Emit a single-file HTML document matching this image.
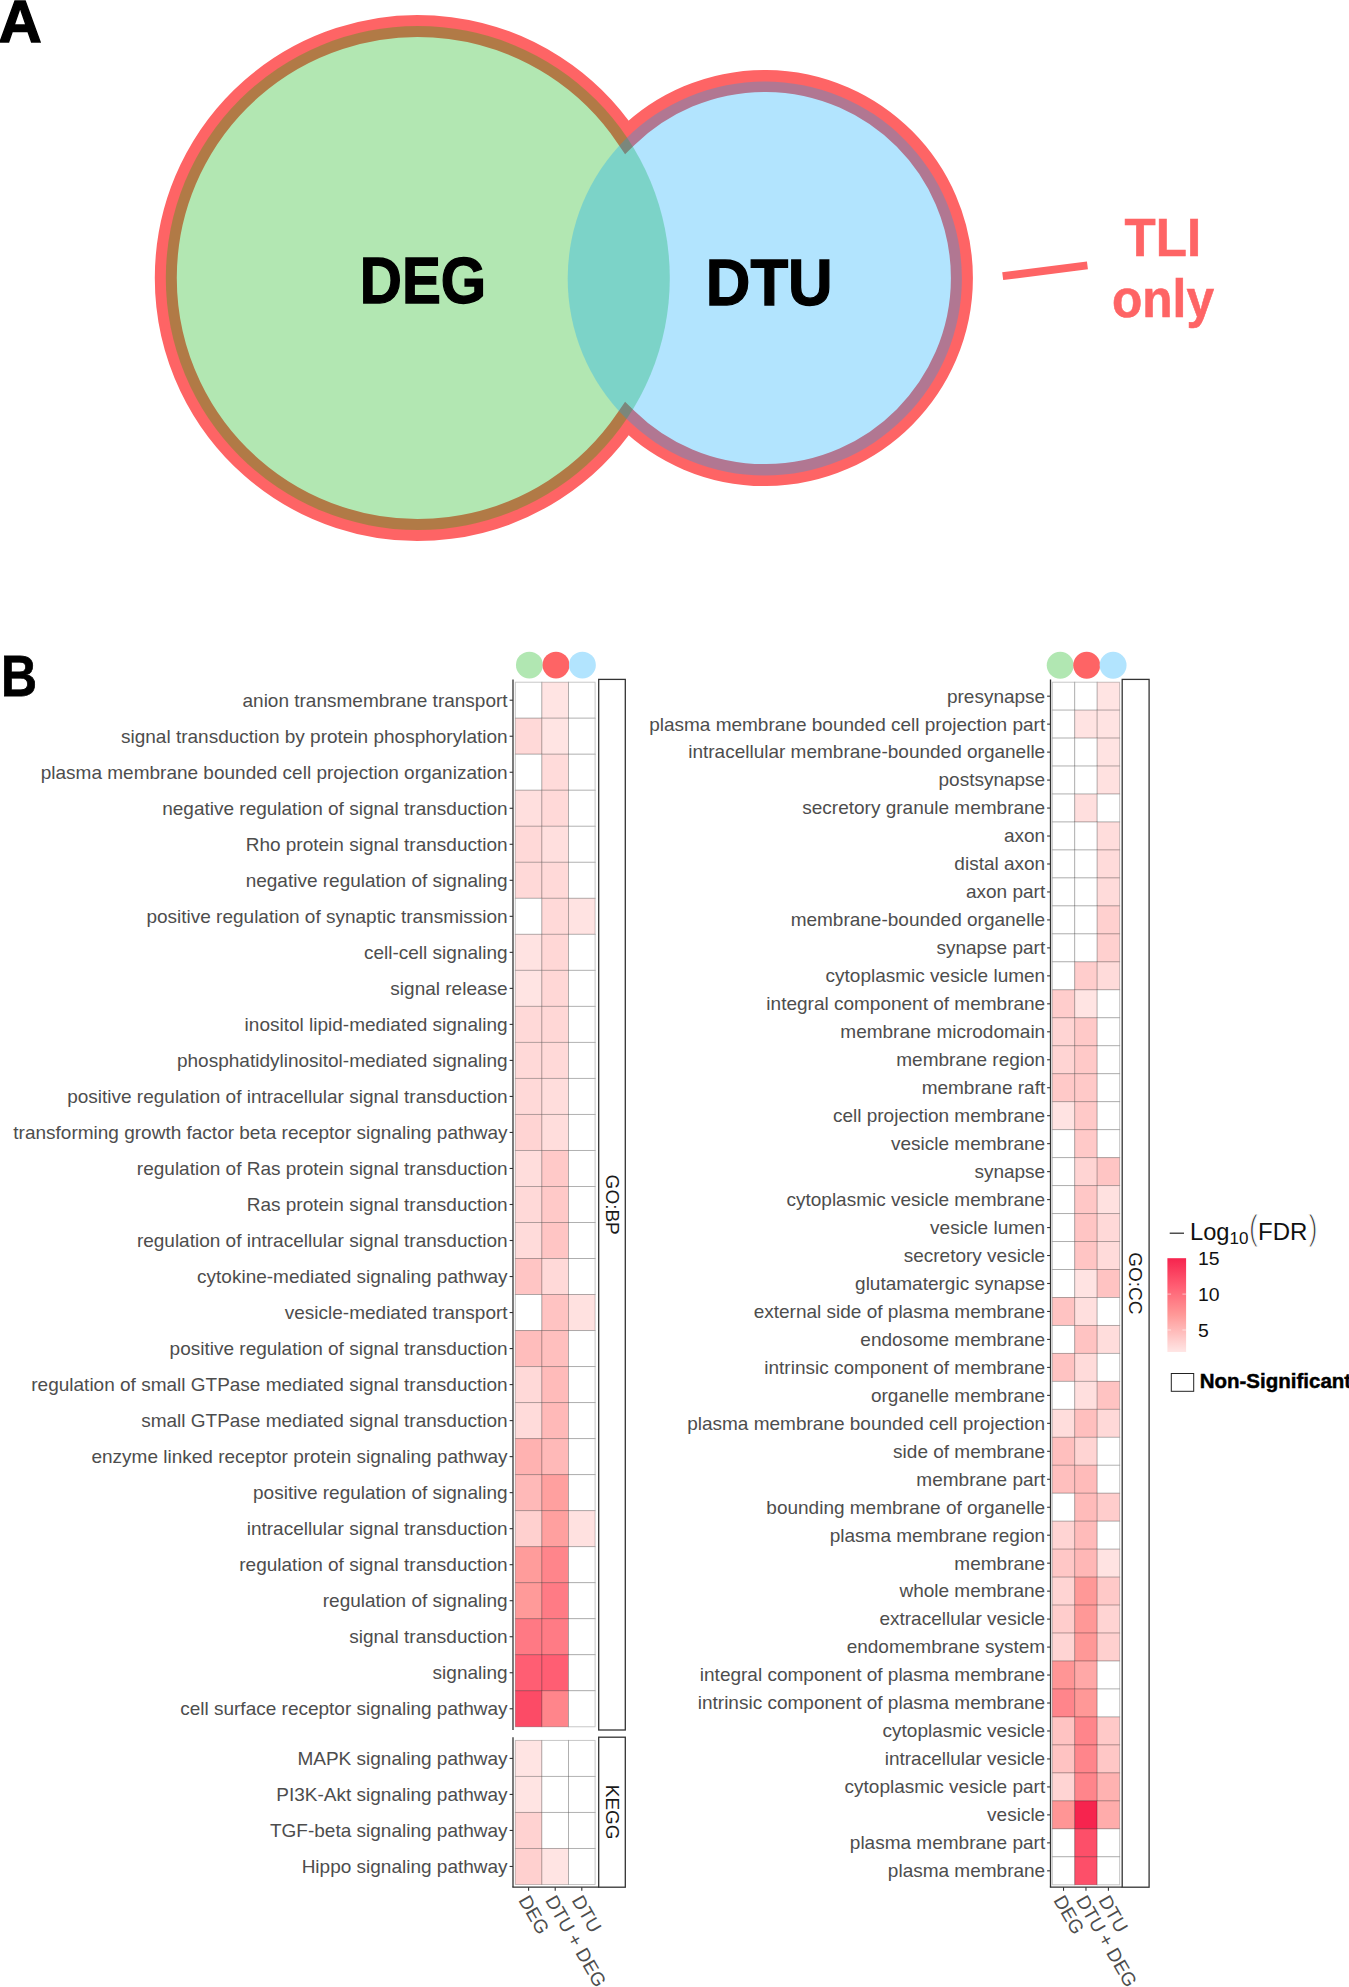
<!DOCTYPE html>
<html lang="en"><head><meta charset="utf-8"><title>Figure</title>
<style>html,body{margin:0;padding:0;background:#fff}svg{display:block}text{white-space:pre}</style>
</head><body>
<svg width="1349" height="1987" viewBox="0 0 1349 1987">
<rect width="1349" height="1987" fill="#fff"/>
<path d="M626.83 418.75 A252.0 252.0 0 1 1 626.83 137.25 A197.1 197.1 0 1 1 626.83 418.75 Z" fill="none" stroke="#fe6465" stroke-width="22" stroke-linejoin="miter"/>
<circle cx="417.8" cy="278.0" r="252.0" fill="rgb(0,176,0)" fill-opacity=".3"/>
<circle cx="764.8" cy="278.5" r="197.1" fill="rgb(0,166,252)" fill-opacity=".3"/>
<text x="359.8" y="302.9" font-family='"Liberation Sans", Arial, Helvetica, sans-serif' font-weight="700" font-size="65.6" stroke="#000" stroke-width="1.3" textLength="126.4" lengthAdjust="spacingAndGlyphs" fill="#000">DEG</text>
<text x="705.8" y="305.4" font-family='"Liberation Sans", Arial, Helvetica, sans-serif' font-weight="700" font-size="65.6" stroke="#000" stroke-width="1.3" textLength="126.9" lengthAdjust="spacingAndGlyphs" fill="#000">DTU</text>
<line x1="1002.7" y1="276.2" x2="1087.4" y2="265.4" stroke="#fe6465" stroke-width="7.8"/>
<text x="1124.6" y="256.3" font-family='"Liberation Sans", Arial, Helvetica, sans-serif' font-weight="700" font-size="54" stroke="#fe6465" stroke-width="0.6" textLength="76.5" lengthAdjust="spacingAndGlyphs" fill="#fe6465">TLI</text>
<text x="1112" y="317.2" font-family='"Liberation Sans", Arial, Helvetica, sans-serif' font-weight="700" font-size="54" stroke="#fe6465" stroke-width="0.6" textLength="102" lengthAdjust="spacingAndGlyphs" fill="#fe6465">only</text>
<text x="-1.5" y="42.0" font-family='"Liberation Sans", Arial, Helvetica, sans-serif' font-weight="700" font-size="60" stroke="#000" stroke-width="1.4" stroke-linejoin="miter" textLength="43.2" lengthAdjust="spacingAndGlyphs" fill="#000">A</text>
<text x="1.0" y="695.7" font-family='"Liberation Sans", Arial, Helvetica, sans-serif' font-weight="700" font-size="56.9" stroke="#000" stroke-width=".8" textLength="36.0" lengthAdjust="spacingAndGlyphs" fill="#000">B</text>
<rect x="515.30" y="682.20" width="26.60" height="36.02" fill="#ffffff" stroke="#000" stroke-opacity=".235" stroke-width=".95"/>
<rect x="541.90" y="682.20" width="26.60" height="36.02" fill="#ffe4e3" stroke="#000" stroke-opacity=".235" stroke-width=".95"/>
<rect x="568.50" y="682.20" width="26.60" height="36.02" fill="#ffffff" stroke="#000" stroke-opacity=".235" stroke-width=".95"/>
<rect x="515.30" y="718.22" width="26.60" height="36.02" fill="#ffd9d8" stroke="#000" stroke-opacity=".235" stroke-width=".95"/>
<rect x="541.90" y="718.22" width="26.60" height="36.02" fill="#ffe4e3" stroke="#000" stroke-opacity=".235" stroke-width=".95"/>
<rect x="568.50" y="718.22" width="26.60" height="36.02" fill="#ffffff" stroke="#000" stroke-opacity=".235" stroke-width=".95"/>
<rect x="515.30" y="754.24" width="26.60" height="36.02" fill="#ffffff" stroke="#000" stroke-opacity=".235" stroke-width=".95"/>
<rect x="541.90" y="754.24" width="26.60" height="36.02" fill="#ffdbda" stroke="#000" stroke-opacity=".235" stroke-width=".95"/>
<rect x="568.50" y="754.24" width="26.60" height="36.02" fill="#ffffff" stroke="#000" stroke-opacity=".235" stroke-width=".95"/>
<rect x="515.30" y="790.26" width="26.60" height="36.02" fill="#ffdfde" stroke="#000" stroke-opacity=".235" stroke-width=".95"/>
<rect x="541.90" y="790.26" width="26.60" height="36.02" fill="#ffd9d8" stroke="#000" stroke-opacity=".235" stroke-width=".95"/>
<rect x="568.50" y="790.26" width="26.60" height="36.02" fill="#ffffff" stroke="#000" stroke-opacity=".235" stroke-width=".95"/>
<rect x="515.30" y="826.28" width="26.60" height="36.02" fill="#ffd9d8" stroke="#000" stroke-opacity=".235" stroke-width=".95"/>
<rect x="541.90" y="826.28" width="26.60" height="36.02" fill="#ffdfde" stroke="#000" stroke-opacity=".235" stroke-width=".95"/>
<rect x="568.50" y="826.28" width="26.60" height="36.02" fill="#ffffff" stroke="#000" stroke-opacity=".235" stroke-width=".95"/>
<rect x="515.30" y="862.30" width="26.60" height="36.02" fill="#ffd9d8" stroke="#000" stroke-opacity=".235" stroke-width=".95"/>
<rect x="541.90" y="862.30" width="26.60" height="36.02" fill="#ffd9d8" stroke="#000" stroke-opacity=".235" stroke-width=".95"/>
<rect x="568.50" y="862.30" width="26.60" height="36.02" fill="#ffffff" stroke="#000" stroke-opacity=".235" stroke-width=".95"/>
<rect x="515.30" y="898.32" width="26.60" height="36.02" fill="#ffffff" stroke="#000" stroke-opacity=".235" stroke-width=".95"/>
<rect x="541.90" y="898.32" width="26.60" height="36.02" fill="#ffd9d8" stroke="#000" stroke-opacity=".235" stroke-width=".95"/>
<rect x="568.50" y="898.32" width="26.60" height="36.02" fill="#ffe3e2" stroke="#000" stroke-opacity=".235" stroke-width=".95"/>
<rect x="515.30" y="934.34" width="26.60" height="36.02" fill="#ffe3e2" stroke="#000" stroke-opacity=".235" stroke-width=".95"/>
<rect x="541.90" y="934.34" width="26.60" height="36.02" fill="#ffd7d6" stroke="#000" stroke-opacity=".235" stroke-width=".95"/>
<rect x="568.50" y="934.34" width="26.60" height="36.02" fill="#ffffff" stroke="#000" stroke-opacity=".235" stroke-width=".95"/>
<rect x="515.30" y="970.36" width="26.60" height="36.02" fill="#ffe4e3" stroke="#000" stroke-opacity=".235" stroke-width=".95"/>
<rect x="541.90" y="970.36" width="26.60" height="36.02" fill="#ffd7d6" stroke="#000" stroke-opacity=".235" stroke-width=".95"/>
<rect x="568.50" y="970.36" width="26.60" height="36.02" fill="#ffffff" stroke="#000" stroke-opacity=".235" stroke-width=".95"/>
<rect x="515.30" y="1006.38" width="26.60" height="36.02" fill="#ffd9d8" stroke="#000" stroke-opacity=".235" stroke-width=".95"/>
<rect x="541.90" y="1006.38" width="26.60" height="36.02" fill="#ffd7d6" stroke="#000" stroke-opacity=".235" stroke-width=".95"/>
<rect x="568.50" y="1006.38" width="26.60" height="36.02" fill="#ffffff" stroke="#000" stroke-opacity=".235" stroke-width=".95"/>
<rect x="515.30" y="1042.40" width="26.60" height="36.02" fill="#ffd9d8" stroke="#000" stroke-opacity=".235" stroke-width=".95"/>
<rect x="541.90" y="1042.40" width="26.60" height="36.02" fill="#ffd9d8" stroke="#000" stroke-opacity=".235" stroke-width=".95"/>
<rect x="568.50" y="1042.40" width="26.60" height="36.02" fill="#ffffff" stroke="#000" stroke-opacity=".235" stroke-width=".95"/>
<rect x="515.30" y="1078.42" width="26.60" height="36.02" fill="#ffd9d8" stroke="#000" stroke-opacity=".235" stroke-width=".95"/>
<rect x="541.90" y="1078.42" width="26.60" height="36.02" fill="#ffdddc" stroke="#000" stroke-opacity=".235" stroke-width=".95"/>
<rect x="568.50" y="1078.42" width="26.60" height="36.02" fill="#ffffff" stroke="#000" stroke-opacity=".235" stroke-width=".95"/>
<rect x="515.30" y="1114.44" width="26.60" height="36.02" fill="#ffd4d3" stroke="#000" stroke-opacity=".235" stroke-width=".95"/>
<rect x="541.90" y="1114.44" width="26.60" height="36.02" fill="#ffdddc" stroke="#000" stroke-opacity=".235" stroke-width=".95"/>
<rect x="568.50" y="1114.44" width="26.60" height="36.02" fill="#ffffff" stroke="#000" stroke-opacity=".235" stroke-width=".95"/>
<rect x="515.30" y="1150.46" width="26.60" height="36.02" fill="#ffdddc" stroke="#000" stroke-opacity=".235" stroke-width=".95"/>
<rect x="541.90" y="1150.46" width="26.60" height="36.02" fill="#ffc9c8" stroke="#000" stroke-opacity=".235" stroke-width=".95"/>
<rect x="568.50" y="1150.46" width="26.60" height="36.02" fill="#ffffff" stroke="#000" stroke-opacity=".235" stroke-width=".95"/>
<rect x="515.30" y="1186.48" width="26.60" height="36.02" fill="#ffd9d8" stroke="#000" stroke-opacity=".235" stroke-width=".95"/>
<rect x="541.90" y="1186.48" width="26.60" height="36.02" fill="#ffc9c8" stroke="#000" stroke-opacity=".235" stroke-width=".95"/>
<rect x="568.50" y="1186.48" width="26.60" height="36.02" fill="#ffffff" stroke="#000" stroke-opacity=".235" stroke-width=".95"/>
<rect x="515.30" y="1222.50" width="26.60" height="36.02" fill="#ffdbda" stroke="#000" stroke-opacity=".235" stroke-width=".95"/>
<rect x="541.90" y="1222.50" width="26.60" height="36.02" fill="#ffc5c4" stroke="#000" stroke-opacity=".235" stroke-width=".95"/>
<rect x="568.50" y="1222.50" width="26.60" height="36.02" fill="#ffffff" stroke="#000" stroke-opacity=".235" stroke-width=".95"/>
<rect x="515.30" y="1258.52" width="26.60" height="36.02" fill="#ffc5c4" stroke="#000" stroke-opacity=".235" stroke-width=".95"/>
<rect x="541.90" y="1258.52" width="26.60" height="36.02" fill="#ffd9d8" stroke="#000" stroke-opacity=".235" stroke-width=".95"/>
<rect x="568.50" y="1258.52" width="26.60" height="36.02" fill="#ffffff" stroke="#000" stroke-opacity=".235" stroke-width=".95"/>
<rect x="515.30" y="1294.54" width="26.60" height="36.02" fill="#ffffff" stroke="#000" stroke-opacity=".235" stroke-width=".95"/>
<rect x="541.90" y="1294.54" width="26.60" height="36.02" fill="#ffc3c2" stroke="#000" stroke-opacity=".235" stroke-width=".95"/>
<rect x="568.50" y="1294.54" width="26.60" height="36.02" fill="#ffe1e0" stroke="#000" stroke-opacity=".235" stroke-width=".95"/>
<rect x="515.30" y="1330.56" width="26.60" height="36.02" fill="#ffbdbc" stroke="#000" stroke-opacity=".235" stroke-width=".95"/>
<rect x="541.90" y="1330.56" width="26.60" height="36.02" fill="#ffbfbe" stroke="#000" stroke-opacity=".235" stroke-width=".95"/>
<rect x="568.50" y="1330.56" width="26.60" height="36.02" fill="#ffffff" stroke="#000" stroke-opacity=".235" stroke-width=".95"/>
<rect x="515.30" y="1366.58" width="26.60" height="36.02" fill="#ffd9d8" stroke="#000" stroke-opacity=".235" stroke-width=".95"/>
<rect x="541.90" y="1366.58" width="26.60" height="36.02" fill="#ffbbba" stroke="#000" stroke-opacity=".235" stroke-width=".95"/>
<rect x="568.50" y="1366.58" width="26.60" height="36.02" fill="#ffffff" stroke="#000" stroke-opacity=".235" stroke-width=".95"/>
<rect x="515.30" y="1402.60" width="26.60" height="36.02" fill="#ffdbda" stroke="#000" stroke-opacity=".235" stroke-width=".95"/>
<rect x="541.90" y="1402.60" width="26.60" height="36.02" fill="#ffb9b8" stroke="#000" stroke-opacity=".235" stroke-width=".95"/>
<rect x="568.50" y="1402.60" width="26.60" height="36.02" fill="#ffffff" stroke="#000" stroke-opacity=".235" stroke-width=".95"/>
<rect x="515.30" y="1438.62" width="26.60" height="36.02" fill="#ffb2b1" stroke="#000" stroke-opacity=".235" stroke-width=".95"/>
<rect x="541.90" y="1438.62" width="26.60" height="36.02" fill="#ffb9b8" stroke="#000" stroke-opacity=".235" stroke-width=".95"/>
<rect x="568.50" y="1438.62" width="26.60" height="36.02" fill="#ffffff" stroke="#000" stroke-opacity=".235" stroke-width=".95"/>
<rect x="515.30" y="1474.64" width="26.60" height="36.02" fill="#ffb9b8" stroke="#000" stroke-opacity=".235" stroke-width=".95"/>
<rect x="541.90" y="1474.64" width="26.60" height="36.02" fill="#ffa09f" stroke="#000" stroke-opacity=".235" stroke-width=".95"/>
<rect x="568.50" y="1474.64" width="26.60" height="36.02" fill="#ffffff" stroke="#000" stroke-opacity=".235" stroke-width=".95"/>
<rect x="515.30" y="1510.66" width="26.60" height="36.02" fill="#ffd0cf" stroke="#000" stroke-opacity=".235" stroke-width=".95"/>
<rect x="541.90" y="1510.66" width="26.60" height="36.02" fill="#ffa09f" stroke="#000" stroke-opacity=".235" stroke-width=".95"/>
<rect x="568.50" y="1510.66" width="26.60" height="36.02" fill="#ffe1e0" stroke="#000" stroke-opacity=".235" stroke-width=".95"/>
<rect x="515.30" y="1546.68" width="26.60" height="36.02" fill="#ff9c9b" stroke="#000" stroke-opacity=".235" stroke-width=".95"/>
<rect x="541.90" y="1546.68" width="26.60" height="36.02" fill="#ff858b" stroke="#000" stroke-opacity=".235" stroke-width=".95"/>
<rect x="568.50" y="1546.68" width="26.60" height="36.02" fill="#ffffff" stroke="#000" stroke-opacity=".235" stroke-width=".95"/>
<rect x="515.30" y="1582.70" width="26.60" height="36.02" fill="#ff9a99" stroke="#000" stroke-opacity=".235" stroke-width=".95"/>
<rect x="541.90" y="1582.70" width="26.60" height="36.02" fill="#ff7b85" stroke="#000" stroke-opacity=".235" stroke-width=".95"/>
<rect x="568.50" y="1582.70" width="26.60" height="36.02" fill="#ffffff" stroke="#000" stroke-opacity=".235" stroke-width=".95"/>
<rect x="515.30" y="1618.72" width="26.60" height="36.02" fill="#ff7984" stroke="#000" stroke-opacity=".235" stroke-width=".95"/>
<rect x="541.90" y="1618.72" width="26.60" height="36.02" fill="#ff7b85" stroke="#000" stroke-opacity=".235" stroke-width=".95"/>
<rect x="568.50" y="1618.72" width="26.60" height="36.02" fill="#ffffff" stroke="#000" stroke-opacity=".235" stroke-width=".95"/>
<rect x="515.30" y="1654.74" width="26.60" height="36.02" fill="#ff5e73" stroke="#000" stroke-opacity=".235" stroke-width=".95"/>
<rect x="541.90" y="1654.74" width="26.60" height="36.02" fill="#ff5e73" stroke="#000" stroke-opacity=".235" stroke-width=".95"/>
<rect x="568.50" y="1654.74" width="26.60" height="36.02" fill="#ffffff" stroke="#000" stroke-opacity=".235" stroke-width=".95"/>
<rect x="515.30" y="1690.76" width="26.60" height="36.02" fill="#fc4b66" stroke="#000" stroke-opacity=".235" stroke-width=".95"/>
<rect x="541.90" y="1690.76" width="26.60" height="36.02" fill="#ff858b" stroke="#000" stroke-opacity=".235" stroke-width=".95"/>
<rect x="568.50" y="1690.76" width="26.60" height="36.02" fill="#ffffff" stroke="#000" stroke-opacity=".235" stroke-width=".95"/>
<line x1="509.60" y1="700.21" x2="513.00" y2="700.21" stroke="#333333" stroke-width="1.1"/>
<text x="507.6" y="706.91" text-anchor="end" font-family='"Liberation Sans", Arial, Helvetica, sans-serif' font-size="19" fill="#4d4d4d">anion transmembrane transport</text>
<line x1="509.60" y1="736.23" x2="513.00" y2="736.23" stroke="#333333" stroke-width="1.1"/>
<text x="507.6" y="742.93" text-anchor="end" font-family='"Liberation Sans", Arial, Helvetica, sans-serif' font-size="19" fill="#4d4d4d">signal transduction by protein phosphorylation</text>
<line x1="509.60" y1="772.25" x2="513.00" y2="772.25" stroke="#333333" stroke-width="1.1"/>
<text x="507.6" y="778.95" text-anchor="end" font-family='"Liberation Sans", Arial, Helvetica, sans-serif' font-size="19" fill="#4d4d4d">plasma membrane bounded cell projection organization</text>
<line x1="509.60" y1="808.27" x2="513.00" y2="808.27" stroke="#333333" stroke-width="1.1"/>
<text x="507.6" y="814.97" text-anchor="end" font-family='"Liberation Sans", Arial, Helvetica, sans-serif' font-size="19" fill="#4d4d4d">negative regulation of signal transduction</text>
<line x1="509.60" y1="844.29" x2="513.00" y2="844.29" stroke="#333333" stroke-width="1.1"/>
<text x="507.6" y="850.99" text-anchor="end" font-family='"Liberation Sans", Arial, Helvetica, sans-serif' font-size="19" fill="#4d4d4d">Rho protein signal transduction</text>
<line x1="509.60" y1="880.31" x2="513.00" y2="880.31" stroke="#333333" stroke-width="1.1"/>
<text x="507.6" y="887.01" text-anchor="end" font-family='"Liberation Sans", Arial, Helvetica, sans-serif' font-size="19" fill="#4d4d4d">negative regulation of signaling</text>
<line x1="509.60" y1="916.33" x2="513.00" y2="916.33" stroke="#333333" stroke-width="1.1"/>
<text x="507.6" y="923.03" text-anchor="end" font-family='"Liberation Sans", Arial, Helvetica, sans-serif' font-size="19" fill="#4d4d4d">positive regulation of synaptic transmission</text>
<line x1="509.60" y1="952.35" x2="513.00" y2="952.35" stroke="#333333" stroke-width="1.1"/>
<text x="507.6" y="959.05" text-anchor="end" font-family='"Liberation Sans", Arial, Helvetica, sans-serif' font-size="19" fill="#4d4d4d">cell-cell signaling</text>
<line x1="509.60" y1="988.37" x2="513.00" y2="988.37" stroke="#333333" stroke-width="1.1"/>
<text x="507.6" y="995.07" text-anchor="end" font-family='"Liberation Sans", Arial, Helvetica, sans-serif' font-size="19" fill="#4d4d4d">signal release</text>
<line x1="509.60" y1="1024.39" x2="513.00" y2="1024.39" stroke="#333333" stroke-width="1.1"/>
<text x="507.6" y="1031.09" text-anchor="end" font-family='"Liberation Sans", Arial, Helvetica, sans-serif' font-size="19" fill="#4d4d4d">inositol lipid-mediated signaling</text>
<line x1="509.60" y1="1060.41" x2="513.00" y2="1060.41" stroke="#333333" stroke-width="1.1"/>
<text x="507.6" y="1067.11" text-anchor="end" font-family='"Liberation Sans", Arial, Helvetica, sans-serif' font-size="19" fill="#4d4d4d">phosphatidylinositol-mediated signaling</text>
<line x1="509.60" y1="1096.43" x2="513.00" y2="1096.43" stroke="#333333" stroke-width="1.1"/>
<text x="507.6" y="1103.13" text-anchor="end" font-family='"Liberation Sans", Arial, Helvetica, sans-serif' font-size="19" fill="#4d4d4d">positive regulation of intracellular signal transduction</text>
<line x1="509.60" y1="1132.45" x2="513.00" y2="1132.45" stroke="#333333" stroke-width="1.1"/>
<text x="507.6" y="1139.15" text-anchor="end" font-family='"Liberation Sans", Arial, Helvetica, sans-serif' font-size="19" fill="#4d4d4d">transforming growth factor beta receptor signaling pathway</text>
<line x1="509.60" y1="1168.47" x2="513.00" y2="1168.47" stroke="#333333" stroke-width="1.1"/>
<text x="507.6" y="1175.17" text-anchor="end" font-family='"Liberation Sans", Arial, Helvetica, sans-serif' font-size="19" fill="#4d4d4d">regulation of Ras protein signal transduction</text>
<line x1="509.60" y1="1204.49" x2="513.00" y2="1204.49" stroke="#333333" stroke-width="1.1"/>
<text x="507.6" y="1211.19" text-anchor="end" font-family='"Liberation Sans", Arial, Helvetica, sans-serif' font-size="19" fill="#4d4d4d">Ras protein signal transduction</text>
<line x1="509.60" y1="1240.51" x2="513.00" y2="1240.51" stroke="#333333" stroke-width="1.1"/>
<text x="507.6" y="1247.21" text-anchor="end" font-family='"Liberation Sans", Arial, Helvetica, sans-serif' font-size="19" fill="#4d4d4d">regulation of intracellular signal transduction</text>
<line x1="509.60" y1="1276.53" x2="513.00" y2="1276.53" stroke="#333333" stroke-width="1.1"/>
<text x="507.6" y="1283.23" text-anchor="end" font-family='"Liberation Sans", Arial, Helvetica, sans-serif' font-size="19" fill="#4d4d4d">cytokine-mediated signaling pathway</text>
<line x1="509.60" y1="1312.55" x2="513.00" y2="1312.55" stroke="#333333" stroke-width="1.1"/>
<text x="507.6" y="1319.25" text-anchor="end" font-family='"Liberation Sans", Arial, Helvetica, sans-serif' font-size="19" fill="#4d4d4d">vesicle-mediated transport</text>
<line x1="509.60" y1="1348.57" x2="513.00" y2="1348.57" stroke="#333333" stroke-width="1.1"/>
<text x="507.6" y="1355.27" text-anchor="end" font-family='"Liberation Sans", Arial, Helvetica, sans-serif' font-size="19" fill="#4d4d4d">positive regulation of signal transduction</text>
<line x1="509.60" y1="1384.59" x2="513.00" y2="1384.59" stroke="#333333" stroke-width="1.1"/>
<text x="507.6" y="1391.29" text-anchor="end" font-family='"Liberation Sans", Arial, Helvetica, sans-serif' font-size="19" fill="#4d4d4d">regulation of small GTPase mediated signal transduction</text>
<line x1="509.60" y1="1420.61" x2="513.00" y2="1420.61" stroke="#333333" stroke-width="1.1"/>
<text x="507.6" y="1427.31" text-anchor="end" font-family='"Liberation Sans", Arial, Helvetica, sans-serif' font-size="19" fill="#4d4d4d">small GTPase mediated signal transduction</text>
<line x1="509.60" y1="1456.63" x2="513.00" y2="1456.63" stroke="#333333" stroke-width="1.1"/>
<text x="507.6" y="1463.33" text-anchor="end" font-family='"Liberation Sans", Arial, Helvetica, sans-serif' font-size="19" fill="#4d4d4d">enzyme linked receptor protein signaling pathway</text>
<line x1="509.60" y1="1492.65" x2="513.00" y2="1492.65" stroke="#333333" stroke-width="1.1"/>
<text x="507.6" y="1499.35" text-anchor="end" font-family='"Liberation Sans", Arial, Helvetica, sans-serif' font-size="19" fill="#4d4d4d">positive regulation of signaling</text>
<line x1="509.60" y1="1528.67" x2="513.00" y2="1528.67" stroke="#333333" stroke-width="1.1"/>
<text x="507.6" y="1535.37" text-anchor="end" font-family='"Liberation Sans", Arial, Helvetica, sans-serif' font-size="19" fill="#4d4d4d">intracellular signal transduction</text>
<line x1="509.60" y1="1564.69" x2="513.00" y2="1564.69" stroke="#333333" stroke-width="1.1"/>
<text x="507.6" y="1571.39" text-anchor="end" font-family='"Liberation Sans", Arial, Helvetica, sans-serif' font-size="19" fill="#4d4d4d">regulation of signal transduction</text>
<line x1="509.60" y1="1600.71" x2="513.00" y2="1600.71" stroke="#333333" stroke-width="1.1"/>
<text x="507.6" y="1607.41" text-anchor="end" font-family='"Liberation Sans", Arial, Helvetica, sans-serif' font-size="19" fill="#4d4d4d">regulation of signaling</text>
<line x1="509.60" y1="1636.73" x2="513.00" y2="1636.73" stroke="#333333" stroke-width="1.1"/>
<text x="507.6" y="1643.43" text-anchor="end" font-family='"Liberation Sans", Arial, Helvetica, sans-serif' font-size="19" fill="#4d4d4d">signal transduction</text>
<line x1="509.60" y1="1672.75" x2="513.00" y2="1672.75" stroke="#333333" stroke-width="1.1"/>
<text x="507.6" y="1679.45" text-anchor="end" font-family='"Liberation Sans", Arial, Helvetica, sans-serif' font-size="19" fill="#4d4d4d">signaling</text>
<line x1="509.60" y1="1708.77" x2="513.00" y2="1708.77" stroke="#333333" stroke-width="1.1"/>
<text x="507.6" y="1715.47" text-anchor="end" font-family='"Liberation Sans", Arial, Helvetica, sans-serif' font-size="19" fill="#4d4d4d">cell surface receptor signaling pathway</text>
<line x1="513.0" y1="679.40" x2="513.0" y2="1730.00" stroke="#333333" stroke-width="1.3"/>
<rect x="598.7" y="679.40" width="26.60" height="1050.60" fill="#fff" stroke="#333333" stroke-width="1.3"/>
<text transform="translate(605.70 1204.70) rotate(90)" text-anchor="middle" font-family='"Liberation Sans", Arial, Helvetica, sans-serif' font-size="19" fill="#1a1a1a">GO:BP</text>
<rect x="515.30" y="1740.40" width="26.60" height="36.02" fill="#ffe4e3" stroke="#000" stroke-opacity=".235" stroke-width=".95"/>
<rect x="541.90" y="1740.40" width="26.60" height="36.02" fill="#ffffff" stroke="#000" stroke-opacity=".235" stroke-width=".95"/>
<rect x="568.50" y="1740.40" width="26.60" height="36.02" fill="#ffffff" stroke="#000" stroke-opacity=".235" stroke-width=".95"/>
<rect x="515.30" y="1776.42" width="26.60" height="36.02" fill="#ffe4e3" stroke="#000" stroke-opacity=".235" stroke-width=".95"/>
<rect x="541.90" y="1776.42" width="26.60" height="36.02" fill="#ffffff" stroke="#000" stroke-opacity=".235" stroke-width=".95"/>
<rect x="568.50" y="1776.42" width="26.60" height="36.02" fill="#ffffff" stroke="#000" stroke-opacity=".235" stroke-width=".95"/>
<rect x="515.30" y="1812.44" width="26.60" height="36.02" fill="#ffd2d1" stroke="#000" stroke-opacity=".235" stroke-width=".95"/>
<rect x="541.90" y="1812.44" width="26.60" height="36.02" fill="#ffffff" stroke="#000" stroke-opacity=".235" stroke-width=".95"/>
<rect x="568.50" y="1812.44" width="26.60" height="36.02" fill="#ffffff" stroke="#000" stroke-opacity=".235" stroke-width=".95"/>
<rect x="515.30" y="1848.46" width="26.60" height="36.02" fill="#ffd0cf" stroke="#000" stroke-opacity=".235" stroke-width=".95"/>
<rect x="541.90" y="1848.46" width="26.60" height="36.02" fill="#ffe4e3" stroke="#000" stroke-opacity=".235" stroke-width=".95"/>
<rect x="568.50" y="1848.46" width="26.60" height="36.02" fill="#ffffff" stroke="#000" stroke-opacity=".235" stroke-width=".95"/>
<line x1="509.60" y1="1758.41" x2="513.00" y2="1758.41" stroke="#333333" stroke-width="1.1"/>
<text x="507.6" y="1765.11" text-anchor="end" font-family='"Liberation Sans", Arial, Helvetica, sans-serif' font-size="19" fill="#4d4d4d">MAPK signaling pathway</text>
<line x1="509.60" y1="1794.43" x2="513.00" y2="1794.43" stroke="#333333" stroke-width="1.1"/>
<text x="507.6" y="1801.13" text-anchor="end" font-family='"Liberation Sans", Arial, Helvetica, sans-serif' font-size="19" fill="#4d4d4d">PI3K-Akt signaling pathway</text>
<line x1="509.60" y1="1830.45" x2="513.00" y2="1830.45" stroke="#333333" stroke-width="1.1"/>
<text x="507.6" y="1837.15" text-anchor="end" font-family='"Liberation Sans", Arial, Helvetica, sans-serif' font-size="19" fill="#4d4d4d">TGF-beta signaling pathway</text>
<line x1="509.60" y1="1866.47" x2="513.00" y2="1866.47" stroke="#333333" stroke-width="1.1"/>
<text x="507.6" y="1873.17" text-anchor="end" font-family='"Liberation Sans", Arial, Helvetica, sans-serif' font-size="19" fill="#4d4d4d">Hippo signaling pathway</text>
<line x1="513.0" y1="1737.20" x2="513.0" y2="1887.20" stroke="#333333" stroke-width="1.3"/>
<rect x="598.7" y="1737.20" width="26.60" height="150.00" fill="#fff" stroke="#333333" stroke-width="1.3"/>
<text transform="translate(605.70 1812.20) rotate(90)" text-anchor="middle" font-family='"Liberation Sans", Arial, Helvetica, sans-serif' font-size="19" fill="#1a1a1a">KEGG</text>
<line x1="512.35" y1="1887.20" x2="598.7" y2="1887.20" stroke="#333333" stroke-width="1.3"/>
<line x1="528.60" y1="1887.20" x2="528.60" y2="1890.80" stroke="#333333" stroke-width="1.1"/>
<text transform="translate(518.10 1900.20) rotate(60)" font-family='"Liberation Sans", Arial, Helvetica, sans-serif' font-size="19" fill="#4d4d4d">DEG</text>
<line x1="555.20" y1="1887.20" x2="555.20" y2="1890.80" stroke="#333333" stroke-width="1.1"/>
<text transform="translate(544.70 1900.20) rotate(60)" font-family='"Liberation Sans", Arial, Helvetica, sans-serif' font-size="19" fill="#4d4d4d">DTU + DEG</text>
<line x1="581.80" y1="1887.20" x2="581.80" y2="1890.80" stroke="#333333" stroke-width="1.1"/>
<text transform="translate(571.30 1900.20) rotate(60)" font-family='"Liberation Sans", Arial, Helvetica, sans-serif' font-size="19" fill="#4d4d4d">DTU</text>
<circle cx="529.4" cy="665.1" r="13.45" fill="#b1e7b2"/>
<circle cx="556.0" cy="665.1" r="13.45" fill="#fe6465"/>
<circle cx="582.4" cy="665.1" r="13.45" fill="#b2e4fe"/>
<rect x="1052.30" y="682.20" width="22.45" height="27.97" fill="#ffffff" stroke="#000" stroke-opacity=".235" stroke-width=".95"/>
<rect x="1074.75" y="682.20" width="22.45" height="27.97" fill="#ffffff" stroke="#000" stroke-opacity=".235" stroke-width=".95"/>
<rect x="1097.20" y="682.20" width="22.45" height="27.97" fill="#ffe4e3" stroke="#000" stroke-opacity=".235" stroke-width=".95"/>
<rect x="1052.30" y="710.17" width="22.45" height="27.97" fill="#ffffff" stroke="#000" stroke-opacity=".235" stroke-width=".95"/>
<rect x="1074.75" y="710.17" width="22.45" height="27.97" fill="#ffe3e2" stroke="#000" stroke-opacity=".235" stroke-width=".95"/>
<rect x="1097.20" y="710.17" width="22.45" height="27.97" fill="#ffe3e2" stroke="#000" stroke-opacity=".235" stroke-width=".95"/>
<rect x="1052.30" y="738.13" width="22.45" height="27.97" fill="#ffffff" stroke="#000" stroke-opacity=".235" stroke-width=".95"/>
<rect x="1074.75" y="738.13" width="22.45" height="27.97" fill="#ffffff" stroke="#000" stroke-opacity=".235" stroke-width=".95"/>
<rect x="1097.20" y="738.13" width="22.45" height="27.97" fill="#ffe3e2" stroke="#000" stroke-opacity=".235" stroke-width=".95"/>
<rect x="1052.30" y="766.10" width="22.45" height="27.97" fill="#ffffff" stroke="#000" stroke-opacity=".235" stroke-width=".95"/>
<rect x="1074.75" y="766.10" width="22.45" height="27.97" fill="#ffffff" stroke="#000" stroke-opacity=".235" stroke-width=".95"/>
<rect x="1097.20" y="766.10" width="22.45" height="27.97" fill="#ffe1e0" stroke="#000" stroke-opacity=".235" stroke-width=".95"/>
<rect x="1052.30" y="794.07" width="22.45" height="27.97" fill="#ffffff" stroke="#000" stroke-opacity=".235" stroke-width=".95"/>
<rect x="1074.75" y="794.07" width="22.45" height="27.97" fill="#ffdfde" stroke="#000" stroke-opacity=".235" stroke-width=".95"/>
<rect x="1097.20" y="794.07" width="22.45" height="27.97" fill="#ffffff" stroke="#000" stroke-opacity=".235" stroke-width=".95"/>
<rect x="1052.30" y="822.04" width="22.45" height="27.97" fill="#ffffff" stroke="#000" stroke-opacity=".235" stroke-width=".95"/>
<rect x="1074.75" y="822.04" width="22.45" height="27.97" fill="#ffffff" stroke="#000" stroke-opacity=".235" stroke-width=".95"/>
<rect x="1097.20" y="822.04" width="22.45" height="27.97" fill="#ffdddc" stroke="#000" stroke-opacity=".235" stroke-width=".95"/>
<rect x="1052.30" y="850.00" width="22.45" height="27.97" fill="#ffffff" stroke="#000" stroke-opacity=".235" stroke-width=".95"/>
<rect x="1074.75" y="850.00" width="22.45" height="27.97" fill="#ffffff" stroke="#000" stroke-opacity=".235" stroke-width=".95"/>
<rect x="1097.20" y="850.00" width="22.45" height="27.97" fill="#ffdbda" stroke="#000" stroke-opacity=".235" stroke-width=".95"/>
<rect x="1052.30" y="877.97" width="22.45" height="27.97" fill="#ffffff" stroke="#000" stroke-opacity=".235" stroke-width=".95"/>
<rect x="1074.75" y="877.97" width="22.45" height="27.97" fill="#ffffff" stroke="#000" stroke-opacity=".235" stroke-width=".95"/>
<rect x="1097.20" y="877.97" width="22.45" height="27.97" fill="#ffdbda" stroke="#000" stroke-opacity=".235" stroke-width=".95"/>
<rect x="1052.30" y="905.94" width="22.45" height="27.97" fill="#ffffff" stroke="#000" stroke-opacity=".235" stroke-width=".95"/>
<rect x="1074.75" y="905.94" width="22.45" height="27.97" fill="#ffffff" stroke="#000" stroke-opacity=".235" stroke-width=".95"/>
<rect x="1097.20" y="905.94" width="22.45" height="27.97" fill="#ffd0cf" stroke="#000" stroke-opacity=".235" stroke-width=".95"/>
<rect x="1052.30" y="933.91" width="22.45" height="27.97" fill="#ffffff" stroke="#000" stroke-opacity=".235" stroke-width=".95"/>
<rect x="1074.75" y="933.91" width="22.45" height="27.97" fill="#ffffff" stroke="#000" stroke-opacity=".235" stroke-width=".95"/>
<rect x="1097.20" y="933.91" width="22.45" height="27.97" fill="#ffd0cf" stroke="#000" stroke-opacity=".235" stroke-width=".95"/>
<rect x="1052.30" y="961.87" width="22.45" height="27.97" fill="#ffffff" stroke="#000" stroke-opacity=".235" stroke-width=".95"/>
<rect x="1074.75" y="961.87" width="22.45" height="27.97" fill="#ffcdcc" stroke="#000" stroke-opacity=".235" stroke-width=".95"/>
<rect x="1097.20" y="961.87" width="22.45" height="27.97" fill="#ffdbda" stroke="#000" stroke-opacity=".235" stroke-width=".95"/>
<rect x="1052.30" y="989.84" width="22.45" height="27.97" fill="#ffcdcc" stroke="#000" stroke-opacity=".235" stroke-width=".95"/>
<rect x="1074.75" y="989.84" width="22.45" height="27.97" fill="#ffe4e3" stroke="#000" stroke-opacity=".235" stroke-width=".95"/>
<rect x="1097.20" y="989.84" width="22.45" height="27.97" fill="#ffffff" stroke="#000" stroke-opacity=".235" stroke-width=".95"/>
<rect x="1052.30" y="1017.81" width="22.45" height="27.97" fill="#ffd4d3" stroke="#000" stroke-opacity=".235" stroke-width=".95"/>
<rect x="1074.75" y="1017.81" width="22.45" height="27.97" fill="#ffc9c8" stroke="#000" stroke-opacity=".235" stroke-width=".95"/>
<rect x="1097.20" y="1017.81" width="22.45" height="27.97" fill="#ffffff" stroke="#000" stroke-opacity=".235" stroke-width=".95"/>
<rect x="1052.30" y="1045.78" width="22.45" height="27.97" fill="#ffd4d3" stroke="#000" stroke-opacity=".235" stroke-width=".95"/>
<rect x="1074.75" y="1045.78" width="22.45" height="27.97" fill="#ffc9c8" stroke="#000" stroke-opacity=".235" stroke-width=".95"/>
<rect x="1097.20" y="1045.78" width="22.45" height="27.97" fill="#ffffff" stroke="#000" stroke-opacity=".235" stroke-width=".95"/>
<rect x="1052.30" y="1073.74" width="22.45" height="27.97" fill="#ffc9c8" stroke="#000" stroke-opacity=".235" stroke-width=".95"/>
<rect x="1074.75" y="1073.74" width="22.45" height="27.97" fill="#ffc9c8" stroke="#000" stroke-opacity=".235" stroke-width=".95"/>
<rect x="1097.20" y="1073.74" width="22.45" height="27.97" fill="#ffffff" stroke="#000" stroke-opacity=".235" stroke-width=".95"/>
<rect x="1052.30" y="1101.71" width="22.45" height="27.97" fill="#ffe3e2" stroke="#000" stroke-opacity=".235" stroke-width=".95"/>
<rect x="1074.75" y="1101.71" width="22.45" height="27.97" fill="#ffc9c8" stroke="#000" stroke-opacity=".235" stroke-width=".95"/>
<rect x="1097.20" y="1101.71" width="22.45" height="27.97" fill="#ffffff" stroke="#000" stroke-opacity=".235" stroke-width=".95"/>
<rect x="1052.30" y="1129.68" width="22.45" height="27.97" fill="#ffffff" stroke="#000" stroke-opacity=".235" stroke-width=".95"/>
<rect x="1074.75" y="1129.68" width="22.45" height="27.97" fill="#ffc9c8" stroke="#000" stroke-opacity=".235" stroke-width=".95"/>
<rect x="1097.20" y="1129.68" width="22.45" height="27.97" fill="#ffffff" stroke="#000" stroke-opacity=".235" stroke-width=".95"/>
<rect x="1052.30" y="1157.65" width="22.45" height="27.97" fill="#ffffff" stroke="#000" stroke-opacity=".235" stroke-width=".95"/>
<rect x="1074.75" y="1157.65" width="22.45" height="27.97" fill="#ffd4d3" stroke="#000" stroke-opacity=".235" stroke-width=".95"/>
<rect x="1097.20" y="1157.65" width="22.45" height="27.97" fill="#ffc5c4" stroke="#000" stroke-opacity=".235" stroke-width=".95"/>
<rect x="1052.30" y="1185.61" width="22.45" height="27.97" fill="#ffffff" stroke="#000" stroke-opacity=".235" stroke-width=".95"/>
<rect x="1074.75" y="1185.61" width="22.45" height="27.97" fill="#ffc7c6" stroke="#000" stroke-opacity=".235" stroke-width=".95"/>
<rect x="1097.20" y="1185.61" width="22.45" height="27.97" fill="#ffe1e0" stroke="#000" stroke-opacity=".235" stroke-width=".95"/>
<rect x="1052.30" y="1213.58" width="22.45" height="27.97" fill="#ffffff" stroke="#000" stroke-opacity=".235" stroke-width=".95"/>
<rect x="1074.75" y="1213.58" width="22.45" height="27.97" fill="#ffc5c4" stroke="#000" stroke-opacity=".235" stroke-width=".95"/>
<rect x="1097.20" y="1213.58" width="22.45" height="27.97" fill="#ffd9d8" stroke="#000" stroke-opacity=".235" stroke-width=".95"/>
<rect x="1052.30" y="1241.55" width="22.45" height="27.97" fill="#ffffff" stroke="#000" stroke-opacity=".235" stroke-width=".95"/>
<rect x="1074.75" y="1241.55" width="22.45" height="27.97" fill="#ffc5c4" stroke="#000" stroke-opacity=".235" stroke-width=".95"/>
<rect x="1097.20" y="1241.55" width="22.45" height="27.97" fill="#ffdbda" stroke="#000" stroke-opacity=".235" stroke-width=".95"/>
<rect x="1052.30" y="1269.52" width="22.45" height="27.97" fill="#ffffff" stroke="#000" stroke-opacity=".235" stroke-width=".95"/>
<rect x="1074.75" y="1269.52" width="22.45" height="27.97" fill="#ffe3e2" stroke="#000" stroke-opacity=".235" stroke-width=".95"/>
<rect x="1097.20" y="1269.52" width="22.45" height="27.97" fill="#ffc3c2" stroke="#000" stroke-opacity=".235" stroke-width=".95"/>
<rect x="1052.30" y="1297.48" width="22.45" height="27.97" fill="#ffc3c2" stroke="#000" stroke-opacity=".235" stroke-width=".95"/>
<rect x="1074.75" y="1297.48" width="22.45" height="27.97" fill="#ffdfde" stroke="#000" stroke-opacity=".235" stroke-width=".95"/>
<rect x="1097.20" y="1297.48" width="22.45" height="27.97" fill="#ffffff" stroke="#000" stroke-opacity=".235" stroke-width=".95"/>
<rect x="1052.30" y="1325.45" width="22.45" height="27.97" fill="#ffffff" stroke="#000" stroke-opacity=".235" stroke-width=".95"/>
<rect x="1074.75" y="1325.45" width="22.45" height="27.97" fill="#ffc3c2" stroke="#000" stroke-opacity=".235" stroke-width=".95"/>
<rect x="1097.20" y="1325.45" width="22.45" height="27.97" fill="#ffdddc" stroke="#000" stroke-opacity=".235" stroke-width=".95"/>
<rect x="1052.30" y="1353.42" width="22.45" height="27.97" fill="#ffc3c2" stroke="#000" stroke-opacity=".235" stroke-width=".95"/>
<rect x="1074.75" y="1353.42" width="22.45" height="27.97" fill="#ffdbda" stroke="#000" stroke-opacity=".235" stroke-width=".95"/>
<rect x="1097.20" y="1353.42" width="22.45" height="27.97" fill="#ffffff" stroke="#000" stroke-opacity=".235" stroke-width=".95"/>
<rect x="1052.30" y="1381.39" width="22.45" height="27.97" fill="#ffffff" stroke="#000" stroke-opacity=".235" stroke-width=".95"/>
<rect x="1074.75" y="1381.39" width="22.45" height="27.97" fill="#ffdfde" stroke="#000" stroke-opacity=".235" stroke-width=".95"/>
<rect x="1097.20" y="1381.39" width="22.45" height="27.97" fill="#ffc3c2" stroke="#000" stroke-opacity=".235" stroke-width=".95"/>
<rect x="1052.30" y="1409.35" width="22.45" height="27.97" fill="#ffdddc" stroke="#000" stroke-opacity=".235" stroke-width=".95"/>
<rect x="1074.75" y="1409.35" width="22.45" height="27.97" fill="#ffbfbe" stroke="#000" stroke-opacity=".235" stroke-width=".95"/>
<rect x="1097.20" y="1409.35" width="22.45" height="27.97" fill="#ffd9d8" stroke="#000" stroke-opacity=".235" stroke-width=".95"/>
<rect x="1052.30" y="1437.32" width="22.45" height="27.97" fill="#ffbfbe" stroke="#000" stroke-opacity=".235" stroke-width=".95"/>
<rect x="1074.75" y="1437.32" width="22.45" height="27.97" fill="#ffd4d3" stroke="#000" stroke-opacity=".235" stroke-width=".95"/>
<rect x="1097.20" y="1437.32" width="22.45" height="27.97" fill="#ffffff" stroke="#000" stroke-opacity=".235" stroke-width=".95"/>
<rect x="1052.30" y="1465.29" width="22.45" height="27.97" fill="#ffbfbe" stroke="#000" stroke-opacity=".235" stroke-width=".95"/>
<rect x="1074.75" y="1465.29" width="22.45" height="27.97" fill="#ffbbba" stroke="#000" stroke-opacity=".235" stroke-width=".95"/>
<rect x="1097.20" y="1465.29" width="22.45" height="27.97" fill="#ffffff" stroke="#000" stroke-opacity=".235" stroke-width=".95"/>
<rect x="1052.30" y="1493.26" width="22.45" height="27.97" fill="#ffffff" stroke="#000" stroke-opacity=".235" stroke-width=".95"/>
<rect x="1074.75" y="1493.26" width="22.45" height="27.97" fill="#ffbbba" stroke="#000" stroke-opacity=".235" stroke-width=".95"/>
<rect x="1097.20" y="1493.26" width="22.45" height="27.97" fill="#ffcdcc" stroke="#000" stroke-opacity=".235" stroke-width=".95"/>
<rect x="1052.30" y="1521.22" width="22.45" height="27.97" fill="#ffd4d3" stroke="#000" stroke-opacity=".235" stroke-width=".95"/>
<rect x="1074.75" y="1521.22" width="22.45" height="27.97" fill="#ffbbba" stroke="#000" stroke-opacity=".235" stroke-width=".95"/>
<rect x="1097.20" y="1521.22" width="22.45" height="27.97" fill="#ffffff" stroke="#000" stroke-opacity=".235" stroke-width=".95"/>
<rect x="1052.30" y="1549.19" width="22.45" height="27.97" fill="#ffc7c6" stroke="#000" stroke-opacity=".235" stroke-width=".95"/>
<rect x="1074.75" y="1549.19" width="22.45" height="27.97" fill="#ffb7b6" stroke="#000" stroke-opacity=".235" stroke-width=".95"/>
<rect x="1097.20" y="1549.19" width="22.45" height="27.97" fill="#ffe3e2" stroke="#000" stroke-opacity=".235" stroke-width=".95"/>
<rect x="1052.30" y="1577.16" width="22.45" height="27.97" fill="#ffd4d3" stroke="#000" stroke-opacity=".235" stroke-width=".95"/>
<rect x="1074.75" y="1577.16" width="22.45" height="27.97" fill="#ff9897" stroke="#000" stroke-opacity=".235" stroke-width=".95"/>
<rect x="1097.20" y="1577.16" width="22.45" height="27.97" fill="#ffc9c8" stroke="#000" stroke-opacity=".235" stroke-width=".95"/>
<rect x="1052.30" y="1605.13" width="22.45" height="27.97" fill="#ffcdcc" stroke="#000" stroke-opacity=".235" stroke-width=".95"/>
<rect x="1074.75" y="1605.13" width="22.45" height="27.97" fill="#ff9897" stroke="#000" stroke-opacity=".235" stroke-width=".95"/>
<rect x="1097.20" y="1605.13" width="22.45" height="27.97" fill="#ffd4d3" stroke="#000" stroke-opacity=".235" stroke-width=".95"/>
<rect x="1052.30" y="1633.09" width="22.45" height="27.97" fill="#ffd4d3" stroke="#000" stroke-opacity=".235" stroke-width=".95"/>
<rect x="1074.75" y="1633.09" width="22.45" height="27.97" fill="#ff9897" stroke="#000" stroke-opacity=".235" stroke-width=".95"/>
<rect x="1097.20" y="1633.09" width="22.45" height="27.97" fill="#ffd0cf" stroke="#000" stroke-opacity=".235" stroke-width=".95"/>
<rect x="1052.30" y="1661.06" width="22.45" height="27.97" fill="#ff9595" stroke="#000" stroke-opacity=".235" stroke-width=".95"/>
<rect x="1074.75" y="1661.06" width="22.45" height="27.97" fill="#ffa8a7" stroke="#000" stroke-opacity=".235" stroke-width=".95"/>
<rect x="1097.20" y="1661.06" width="22.45" height="27.97" fill="#ffffff" stroke="#000" stroke-opacity=".235" stroke-width=".95"/>
<rect x="1052.30" y="1689.03" width="22.45" height="27.97" fill="#ff858b" stroke="#000" stroke-opacity=".235" stroke-width=".95"/>
<rect x="1074.75" y="1689.03" width="22.45" height="27.97" fill="#ff9897" stroke="#000" stroke-opacity=".235" stroke-width=".95"/>
<rect x="1097.20" y="1689.03" width="22.45" height="27.97" fill="#ffffff" stroke="#000" stroke-opacity=".235" stroke-width=".95"/>
<rect x="1052.30" y="1717.00" width="22.45" height="27.97" fill="#ffc3c2" stroke="#000" stroke-opacity=".235" stroke-width=".95"/>
<rect x="1074.75" y="1717.00" width="22.45" height="27.97" fill="#ff858b" stroke="#000" stroke-opacity=".235" stroke-width=".95"/>
<rect x="1097.20" y="1717.00" width="22.45" height="27.97" fill="#ffc9c8" stroke="#000" stroke-opacity=".235" stroke-width=".95"/>
<rect x="1052.30" y="1744.96" width="22.45" height="27.97" fill="#ffc3c2" stroke="#000" stroke-opacity=".235" stroke-width=".95"/>
<rect x="1074.75" y="1744.96" width="22.45" height="27.97" fill="#ff858b" stroke="#000" stroke-opacity=".235" stroke-width=".95"/>
<rect x="1097.20" y="1744.96" width="22.45" height="27.97" fill="#ffc7c6" stroke="#000" stroke-opacity=".235" stroke-width=".95"/>
<rect x="1052.30" y="1772.93" width="22.45" height="27.97" fill="#ffd4d3" stroke="#000" stroke-opacity=".235" stroke-width=".95"/>
<rect x="1074.75" y="1772.93" width="22.45" height="27.97" fill="#ff858b" stroke="#000" stroke-opacity=".235" stroke-width=".95"/>
<rect x="1097.20" y="1772.93" width="22.45" height="27.97" fill="#ffb2b1" stroke="#000" stroke-opacity=".235" stroke-width=".95"/>
<rect x="1052.30" y="1800.90" width="22.45" height="27.97" fill="#ff9595" stroke="#000" stroke-opacity=".235" stroke-width=".95"/>
<rect x="1074.75" y="1800.90" width="22.45" height="27.97" fill="#f6244e" stroke="#000" stroke-opacity=".235" stroke-width=".95"/>
<rect x="1097.20" y="1800.90" width="22.45" height="27.97" fill="#ffacab" stroke="#000" stroke-opacity=".235" stroke-width=".95"/>
<rect x="1052.30" y="1828.87" width="22.45" height="27.97" fill="#ffffff" stroke="#000" stroke-opacity=".235" stroke-width=".95"/>
<rect x="1074.75" y="1828.87" width="22.45" height="27.97" fill="#fd4f69" stroke="#000" stroke-opacity=".235" stroke-width=".95"/>
<rect x="1097.20" y="1828.87" width="22.45" height="27.97" fill="#ffffff" stroke="#000" stroke-opacity=".235" stroke-width=".95"/>
<rect x="1052.30" y="1856.83" width="22.45" height="27.97" fill="#ffffff" stroke="#000" stroke-opacity=".235" stroke-width=".95"/>
<rect x="1074.75" y="1856.83" width="22.45" height="27.97" fill="#fd4f69" stroke="#000" stroke-opacity=".235" stroke-width=".95"/>
<rect x="1097.20" y="1856.83" width="22.45" height="27.97" fill="#ffffff" stroke="#000" stroke-opacity=".235" stroke-width=".95"/>
<line x1="1047.10" y1="696.18" x2="1050.50" y2="696.18" stroke="#333333" stroke-width="1.1"/>
<text x="1045.2" y="702.53" text-anchor="end" font-family='"Liberation Sans", Arial, Helvetica, sans-serif' font-size="19" fill="#4d4d4d">presynapse</text>
<line x1="1047.10" y1="724.15" x2="1050.50" y2="724.15" stroke="#333333" stroke-width="1.1"/>
<text x="1045.2" y="730.50" text-anchor="end" font-family='"Liberation Sans", Arial, Helvetica, sans-serif' font-size="19" fill="#4d4d4d">plasma membrane bounded cell projection part</text>
<line x1="1047.10" y1="752.12" x2="1050.50" y2="752.12" stroke="#333333" stroke-width="1.1"/>
<text x="1045.2" y="758.47" text-anchor="end" font-family='"Liberation Sans", Arial, Helvetica, sans-serif' font-size="19" fill="#4d4d4d">intracellular membrane-bounded organelle</text>
<line x1="1047.10" y1="780.09" x2="1050.50" y2="780.09" stroke="#333333" stroke-width="1.1"/>
<text x="1045.2" y="786.44" text-anchor="end" font-family='"Liberation Sans", Arial, Helvetica, sans-serif' font-size="19" fill="#4d4d4d">postsynapse</text>
<line x1="1047.10" y1="808.05" x2="1050.50" y2="808.05" stroke="#333333" stroke-width="1.1"/>
<text x="1045.2" y="814.40" text-anchor="end" font-family='"Liberation Sans", Arial, Helvetica, sans-serif' font-size="19" fill="#4d4d4d">secretory granule membrane</text>
<line x1="1047.10" y1="836.02" x2="1050.50" y2="836.02" stroke="#333333" stroke-width="1.1"/>
<text x="1045.2" y="842.37" text-anchor="end" font-family='"Liberation Sans", Arial, Helvetica, sans-serif' font-size="19" fill="#4d4d4d">axon</text>
<line x1="1047.10" y1="863.99" x2="1050.50" y2="863.99" stroke="#333333" stroke-width="1.1"/>
<text x="1045.2" y="870.34" text-anchor="end" font-family='"Liberation Sans", Arial, Helvetica, sans-serif' font-size="19" fill="#4d4d4d">distal axon</text>
<line x1="1047.10" y1="891.96" x2="1050.50" y2="891.96" stroke="#333333" stroke-width="1.1"/>
<text x="1045.2" y="898.31" text-anchor="end" font-family='"Liberation Sans", Arial, Helvetica, sans-serif' font-size="19" fill="#4d4d4d">axon part</text>
<line x1="1047.10" y1="919.92" x2="1050.50" y2="919.92" stroke="#333333" stroke-width="1.1"/>
<text x="1045.2" y="926.27" text-anchor="end" font-family='"Liberation Sans", Arial, Helvetica, sans-serif' font-size="19" fill="#4d4d4d">membrane-bounded organelle</text>
<line x1="1047.10" y1="947.89" x2="1050.50" y2="947.89" stroke="#333333" stroke-width="1.1"/>
<text x="1045.2" y="954.24" text-anchor="end" font-family='"Liberation Sans", Arial, Helvetica, sans-serif' font-size="19" fill="#4d4d4d">synapse part</text>
<line x1="1047.10" y1="975.86" x2="1050.50" y2="975.86" stroke="#333333" stroke-width="1.1"/>
<text x="1045.2" y="982.21" text-anchor="end" font-family='"Liberation Sans", Arial, Helvetica, sans-serif' font-size="19" fill="#4d4d4d">cytoplasmic vesicle lumen</text>
<line x1="1047.10" y1="1003.83" x2="1050.50" y2="1003.83" stroke="#333333" stroke-width="1.1"/>
<text x="1045.2" y="1010.18" text-anchor="end" font-family='"Liberation Sans", Arial, Helvetica, sans-serif' font-size="19" fill="#4d4d4d">integral component of membrane</text>
<line x1="1047.10" y1="1031.79" x2="1050.50" y2="1031.79" stroke="#333333" stroke-width="1.1"/>
<text x="1045.2" y="1038.14" text-anchor="end" font-family='"Liberation Sans", Arial, Helvetica, sans-serif' font-size="19" fill="#4d4d4d">membrane microdomain</text>
<line x1="1047.10" y1="1059.76" x2="1050.50" y2="1059.76" stroke="#333333" stroke-width="1.1"/>
<text x="1045.2" y="1066.11" text-anchor="end" font-family='"Liberation Sans", Arial, Helvetica, sans-serif' font-size="19" fill="#4d4d4d">membrane region</text>
<line x1="1047.10" y1="1087.73" x2="1050.50" y2="1087.73" stroke="#333333" stroke-width="1.1"/>
<text x="1045.2" y="1094.08" text-anchor="end" font-family='"Liberation Sans", Arial, Helvetica, sans-serif' font-size="19" fill="#4d4d4d">membrane raft</text>
<line x1="1047.10" y1="1115.70" x2="1050.50" y2="1115.70" stroke="#333333" stroke-width="1.1"/>
<text x="1045.2" y="1122.05" text-anchor="end" font-family='"Liberation Sans", Arial, Helvetica, sans-serif' font-size="19" fill="#4d4d4d">cell projection membrane</text>
<line x1="1047.10" y1="1143.66" x2="1050.50" y2="1143.66" stroke="#333333" stroke-width="1.1"/>
<text x="1045.2" y="1150.01" text-anchor="end" font-family='"Liberation Sans", Arial, Helvetica, sans-serif' font-size="19" fill="#4d4d4d">vesicle membrane</text>
<line x1="1047.10" y1="1171.63" x2="1050.50" y2="1171.63" stroke="#333333" stroke-width="1.1"/>
<text x="1045.2" y="1177.98" text-anchor="end" font-family='"Liberation Sans", Arial, Helvetica, sans-serif' font-size="19" fill="#4d4d4d">synapse</text>
<line x1="1047.10" y1="1199.60" x2="1050.50" y2="1199.60" stroke="#333333" stroke-width="1.1"/>
<text x="1045.2" y="1205.95" text-anchor="end" font-family='"Liberation Sans", Arial, Helvetica, sans-serif' font-size="19" fill="#4d4d4d">cytoplasmic vesicle membrane</text>
<line x1="1047.10" y1="1227.57" x2="1050.50" y2="1227.57" stroke="#333333" stroke-width="1.1"/>
<text x="1045.2" y="1233.92" text-anchor="end" font-family='"Liberation Sans", Arial, Helvetica, sans-serif' font-size="19" fill="#4d4d4d">vesicle lumen</text>
<line x1="1047.10" y1="1255.53" x2="1050.50" y2="1255.53" stroke="#333333" stroke-width="1.1"/>
<text x="1045.2" y="1261.88" text-anchor="end" font-family='"Liberation Sans", Arial, Helvetica, sans-serif' font-size="19" fill="#4d4d4d">secretory vesicle</text>
<line x1="1047.10" y1="1283.50" x2="1050.50" y2="1283.50" stroke="#333333" stroke-width="1.1"/>
<text x="1045.2" y="1289.85" text-anchor="end" font-family='"Liberation Sans", Arial, Helvetica, sans-serif' font-size="19" fill="#4d4d4d">glutamatergic synapse</text>
<line x1="1047.10" y1="1311.47" x2="1050.50" y2="1311.47" stroke="#333333" stroke-width="1.1"/>
<text x="1045.2" y="1317.82" text-anchor="end" font-family='"Liberation Sans", Arial, Helvetica, sans-serif' font-size="19" fill="#4d4d4d">external side of plasma membrane</text>
<line x1="1047.10" y1="1339.43" x2="1050.50" y2="1339.43" stroke="#333333" stroke-width="1.1"/>
<text x="1045.2" y="1345.78" text-anchor="end" font-family='"Liberation Sans", Arial, Helvetica, sans-serif' font-size="19" fill="#4d4d4d">endosome membrane</text>
<line x1="1047.10" y1="1367.40" x2="1050.50" y2="1367.40" stroke="#333333" stroke-width="1.1"/>
<text x="1045.2" y="1373.75" text-anchor="end" font-family='"Liberation Sans", Arial, Helvetica, sans-serif' font-size="19" fill="#4d4d4d">intrinsic component of membrane</text>
<line x1="1047.10" y1="1395.37" x2="1050.50" y2="1395.37" stroke="#333333" stroke-width="1.1"/>
<text x="1045.2" y="1401.72" text-anchor="end" font-family='"Liberation Sans", Arial, Helvetica, sans-serif' font-size="19" fill="#4d4d4d">organelle membrane</text>
<line x1="1047.10" y1="1423.34" x2="1050.50" y2="1423.34" stroke="#333333" stroke-width="1.1"/>
<text x="1045.2" y="1429.69" text-anchor="end" font-family='"Liberation Sans", Arial, Helvetica, sans-serif' font-size="19" fill="#4d4d4d">plasma membrane bounded cell projection</text>
<line x1="1047.10" y1="1451.30" x2="1050.50" y2="1451.30" stroke="#333333" stroke-width="1.1"/>
<text x="1045.2" y="1457.65" text-anchor="end" font-family='"Liberation Sans", Arial, Helvetica, sans-serif' font-size="19" fill="#4d4d4d">side of membrane</text>
<line x1="1047.10" y1="1479.27" x2="1050.50" y2="1479.27" stroke="#333333" stroke-width="1.1"/>
<text x="1045.2" y="1485.62" text-anchor="end" font-family='"Liberation Sans", Arial, Helvetica, sans-serif' font-size="19" fill="#4d4d4d">membrane part</text>
<line x1="1047.10" y1="1507.24" x2="1050.50" y2="1507.24" stroke="#333333" stroke-width="1.1"/>
<text x="1045.2" y="1513.59" text-anchor="end" font-family='"Liberation Sans", Arial, Helvetica, sans-serif' font-size="19" fill="#4d4d4d">bounding membrane of organelle</text>
<line x1="1047.10" y1="1535.21" x2="1050.50" y2="1535.21" stroke="#333333" stroke-width="1.1"/>
<text x="1045.2" y="1541.56" text-anchor="end" font-family='"Liberation Sans", Arial, Helvetica, sans-serif' font-size="19" fill="#4d4d4d">plasma membrane region</text>
<line x1="1047.10" y1="1563.17" x2="1050.50" y2="1563.17" stroke="#333333" stroke-width="1.1"/>
<text x="1045.2" y="1569.52" text-anchor="end" font-family='"Liberation Sans", Arial, Helvetica, sans-serif' font-size="19" fill="#4d4d4d">membrane</text>
<line x1="1047.10" y1="1591.14" x2="1050.50" y2="1591.14" stroke="#333333" stroke-width="1.1"/>
<text x="1045.2" y="1597.49" text-anchor="end" font-family='"Liberation Sans", Arial, Helvetica, sans-serif' font-size="19" fill="#4d4d4d">whole membrane</text>
<line x1="1047.10" y1="1619.11" x2="1050.50" y2="1619.11" stroke="#333333" stroke-width="1.1"/>
<text x="1045.2" y="1625.46" text-anchor="end" font-family='"Liberation Sans", Arial, Helvetica, sans-serif' font-size="19" fill="#4d4d4d">extracellular vesicle</text>
<line x1="1047.10" y1="1647.08" x2="1050.50" y2="1647.08" stroke="#333333" stroke-width="1.1"/>
<text x="1045.2" y="1653.43" text-anchor="end" font-family='"Liberation Sans", Arial, Helvetica, sans-serif' font-size="19" fill="#4d4d4d">endomembrane system</text>
<line x1="1047.10" y1="1675.04" x2="1050.50" y2="1675.04" stroke="#333333" stroke-width="1.1"/>
<text x="1045.2" y="1681.39" text-anchor="end" font-family='"Liberation Sans", Arial, Helvetica, sans-serif' font-size="19" fill="#4d4d4d">integral component of plasma membrane</text>
<line x1="1047.10" y1="1703.01" x2="1050.50" y2="1703.01" stroke="#333333" stroke-width="1.1"/>
<text x="1045.2" y="1709.36" text-anchor="end" font-family='"Liberation Sans", Arial, Helvetica, sans-serif' font-size="19" fill="#4d4d4d">intrinsic component of plasma membrane</text>
<line x1="1047.10" y1="1730.98" x2="1050.50" y2="1730.98" stroke="#333333" stroke-width="1.1"/>
<text x="1045.2" y="1737.33" text-anchor="end" font-family='"Liberation Sans", Arial, Helvetica, sans-serif' font-size="19" fill="#4d4d4d">cytoplasmic vesicle</text>
<line x1="1047.10" y1="1758.95" x2="1050.50" y2="1758.95" stroke="#333333" stroke-width="1.1"/>
<text x="1045.2" y="1765.30" text-anchor="end" font-family='"Liberation Sans", Arial, Helvetica, sans-serif' font-size="19" fill="#4d4d4d">intracellular vesicle</text>
<line x1="1047.10" y1="1786.91" x2="1050.50" y2="1786.91" stroke="#333333" stroke-width="1.1"/>
<text x="1045.2" y="1793.26" text-anchor="end" font-family='"Liberation Sans", Arial, Helvetica, sans-serif' font-size="19" fill="#4d4d4d">cytoplasmic vesicle part</text>
<line x1="1047.10" y1="1814.88" x2="1050.50" y2="1814.88" stroke="#333333" stroke-width="1.1"/>
<text x="1045.2" y="1821.23" text-anchor="end" font-family='"Liberation Sans", Arial, Helvetica, sans-serif' font-size="19" fill="#4d4d4d">vesicle</text>
<line x1="1047.10" y1="1842.85" x2="1050.50" y2="1842.85" stroke="#333333" stroke-width="1.1"/>
<text x="1045.2" y="1849.20" text-anchor="end" font-family='"Liberation Sans", Arial, Helvetica, sans-serif' font-size="19" fill="#4d4d4d">plasma membrane part</text>
<line x1="1047.10" y1="1870.82" x2="1050.50" y2="1870.82" stroke="#333333" stroke-width="1.1"/>
<text x="1045.2" y="1877.17" text-anchor="end" font-family='"Liberation Sans", Arial, Helvetica, sans-serif' font-size="19" fill="#4d4d4d">plasma membrane</text>
<line x1="1050.5" y1="679.40" x2="1050.5" y2="1887.20" stroke="#333333" stroke-width="1.3"/>
<rect x="1122.2" y="679.40" width="26.90" height="1207.80" fill="#fff" stroke="#333333" stroke-width="1.3"/>
<text transform="translate(1129.35 1283.30) rotate(90)" text-anchor="middle" font-family='"Liberation Sans", Arial, Helvetica, sans-serif' font-size="19" fill="#1a1a1a">GO:CC</text>
<line x1="1049.85" y1="1887.20" x2="1122.2" y2="1887.20" stroke="#333333" stroke-width="1.3"/>
<line x1="1063.52" y1="1887.20" x2="1063.52" y2="1890.80" stroke="#333333" stroke-width="1.1"/>
<text transform="translate(1053.02 1900.20) rotate(60)" font-family='"Liberation Sans", Arial, Helvetica, sans-serif' font-size="19" fill="#4d4d4d">DEG</text>
<line x1="1085.97" y1="1887.20" x2="1085.97" y2="1890.80" stroke="#333333" stroke-width="1.1"/>
<text transform="translate(1075.47 1900.20) rotate(60)" font-family='"Liberation Sans", Arial, Helvetica, sans-serif' font-size="19" fill="#4d4d4d">DTU + DEG</text>
<line x1="1108.42" y1="1887.20" x2="1108.42" y2="1890.80" stroke="#333333" stroke-width="1.1"/>
<text transform="translate(1097.92 1900.20) rotate(60)" font-family='"Liberation Sans", Arial, Helvetica, sans-serif' font-size="19" fill="#4d4d4d">DTU</text>
<circle cx="1060.2" cy="665.3" r="13.45" fill="#b1e7b2"/>
<circle cx="1086.7" cy="665.3" r="13.45" fill="#fe6465"/>
<circle cx="1113.1" cy="665.3" r="13.45" fill="#b2e4fe"/>
<defs><linearGradient id="lg" x1="0" y1="0" x2="0" y2="1"><stop offset="0.00" stop-color="#f6244e"/><stop offset="0.10" stop-color="#f9375a"/><stop offset="0.20" stop-color="#fc4b66"/><stop offset="0.30" stop-color="#ff5e73"/><stop offset="0.40" stop-color="#ff727f"/><stop offset="0.50" stop-color="#ff858b"/><stop offset="0.60" stop-color="#ff9897"/><stop offset="0.70" stop-color="#ffacab"/><stop offset="0.80" stop-color="#ffbfbe"/><stop offset="0.90" stop-color="#ffd3d2"/><stop offset="1.00" stop-color="#ffe6e5"/></linearGradient></defs>
<rect x="1167.4" y="1258.2" width="18.7" height="93.8" fill="url(#lg)"/>
<line x1="1167.4" y1="1294.1" x2="1171.1" y2="1294.1" stroke="#fff" stroke-opacity=".7" stroke-width=".8"/>
<line x1="1182.4" y1="1294.1" x2="1186.1" y2="1294.1" stroke="#fff" stroke-opacity=".7" stroke-width=".8"/>
<line x1="1167.4" y1="1330.0" x2="1171.1" y2="1330.0" stroke="#fff" stroke-opacity=".7" stroke-width=".8"/>
<line x1="1182.4" y1="1330.0" x2="1186.1" y2="1330.0" stroke="#fff" stroke-opacity=".7" stroke-width=".8"/>
<text x="1198.0" y="1264.90" font-family='"Liberation Sans", Arial, Helvetica, sans-serif' font-size="18" textLength="21.6" lengthAdjust="spacingAndGlyphs" fill="#111">15</text>
<text x="1198.0" y="1300.60" font-family='"Liberation Sans", Arial, Helvetica, sans-serif' font-size="18" textLength="21.6" lengthAdjust="spacingAndGlyphs" fill="#111">10</text>
<text x="1198.0" y="1336.50" font-family='"Liberation Sans", Arial, Helvetica, sans-serif' font-size="18" textLength="10.8" lengthAdjust="spacingAndGlyphs" fill="#111">5</text>
<line x1="1169.7" y1="1233.2" x2="1184" y2="1233.2" stroke="#222" stroke-width="1.2"/>
<text x="1190.0" y="1240.1" font-family='"Liberation Sans", Arial, Helvetica, sans-serif' font-size="23.7" fill="#111">Log<tspan font-size="17" dy="3.6">10</tspan></text>
<text x="1258.0" y="1240.1" font-family='"Liberation Sans", Arial, Helvetica, sans-serif' font-size="24" fill="#111">FDR</text>
<text transform="translate(1249.1 1240.3) scale(1.12 1.44)" font-family='"Liberation Sans", Arial, Helvetica, sans-serif' font-size="24" fill="#333" stroke="#fff" stroke-width=".75">(</text>
<text transform="translate(1308.4 1240.3) scale(1.12 1.44)" font-family='"Liberation Sans", Arial, Helvetica, sans-serif' font-size="24" fill="#333" stroke="#fff" stroke-width=".75">)</text>
<rect x="1171.3" y="1373.5" width="22.4" height="17.8" fill="#fff" stroke="#222" stroke-width="1"/>
<text x="1199.7" y="1388.2" font-family='"Liberation Sans", Arial, Helvetica, sans-serif' font-weight="700" font-size="20.5" stroke="#000" stroke-width=".45" textLength="151.5" lengthAdjust="spacingAndGlyphs" fill="#000">Non-Significant</text>
</svg>
</body></html>
